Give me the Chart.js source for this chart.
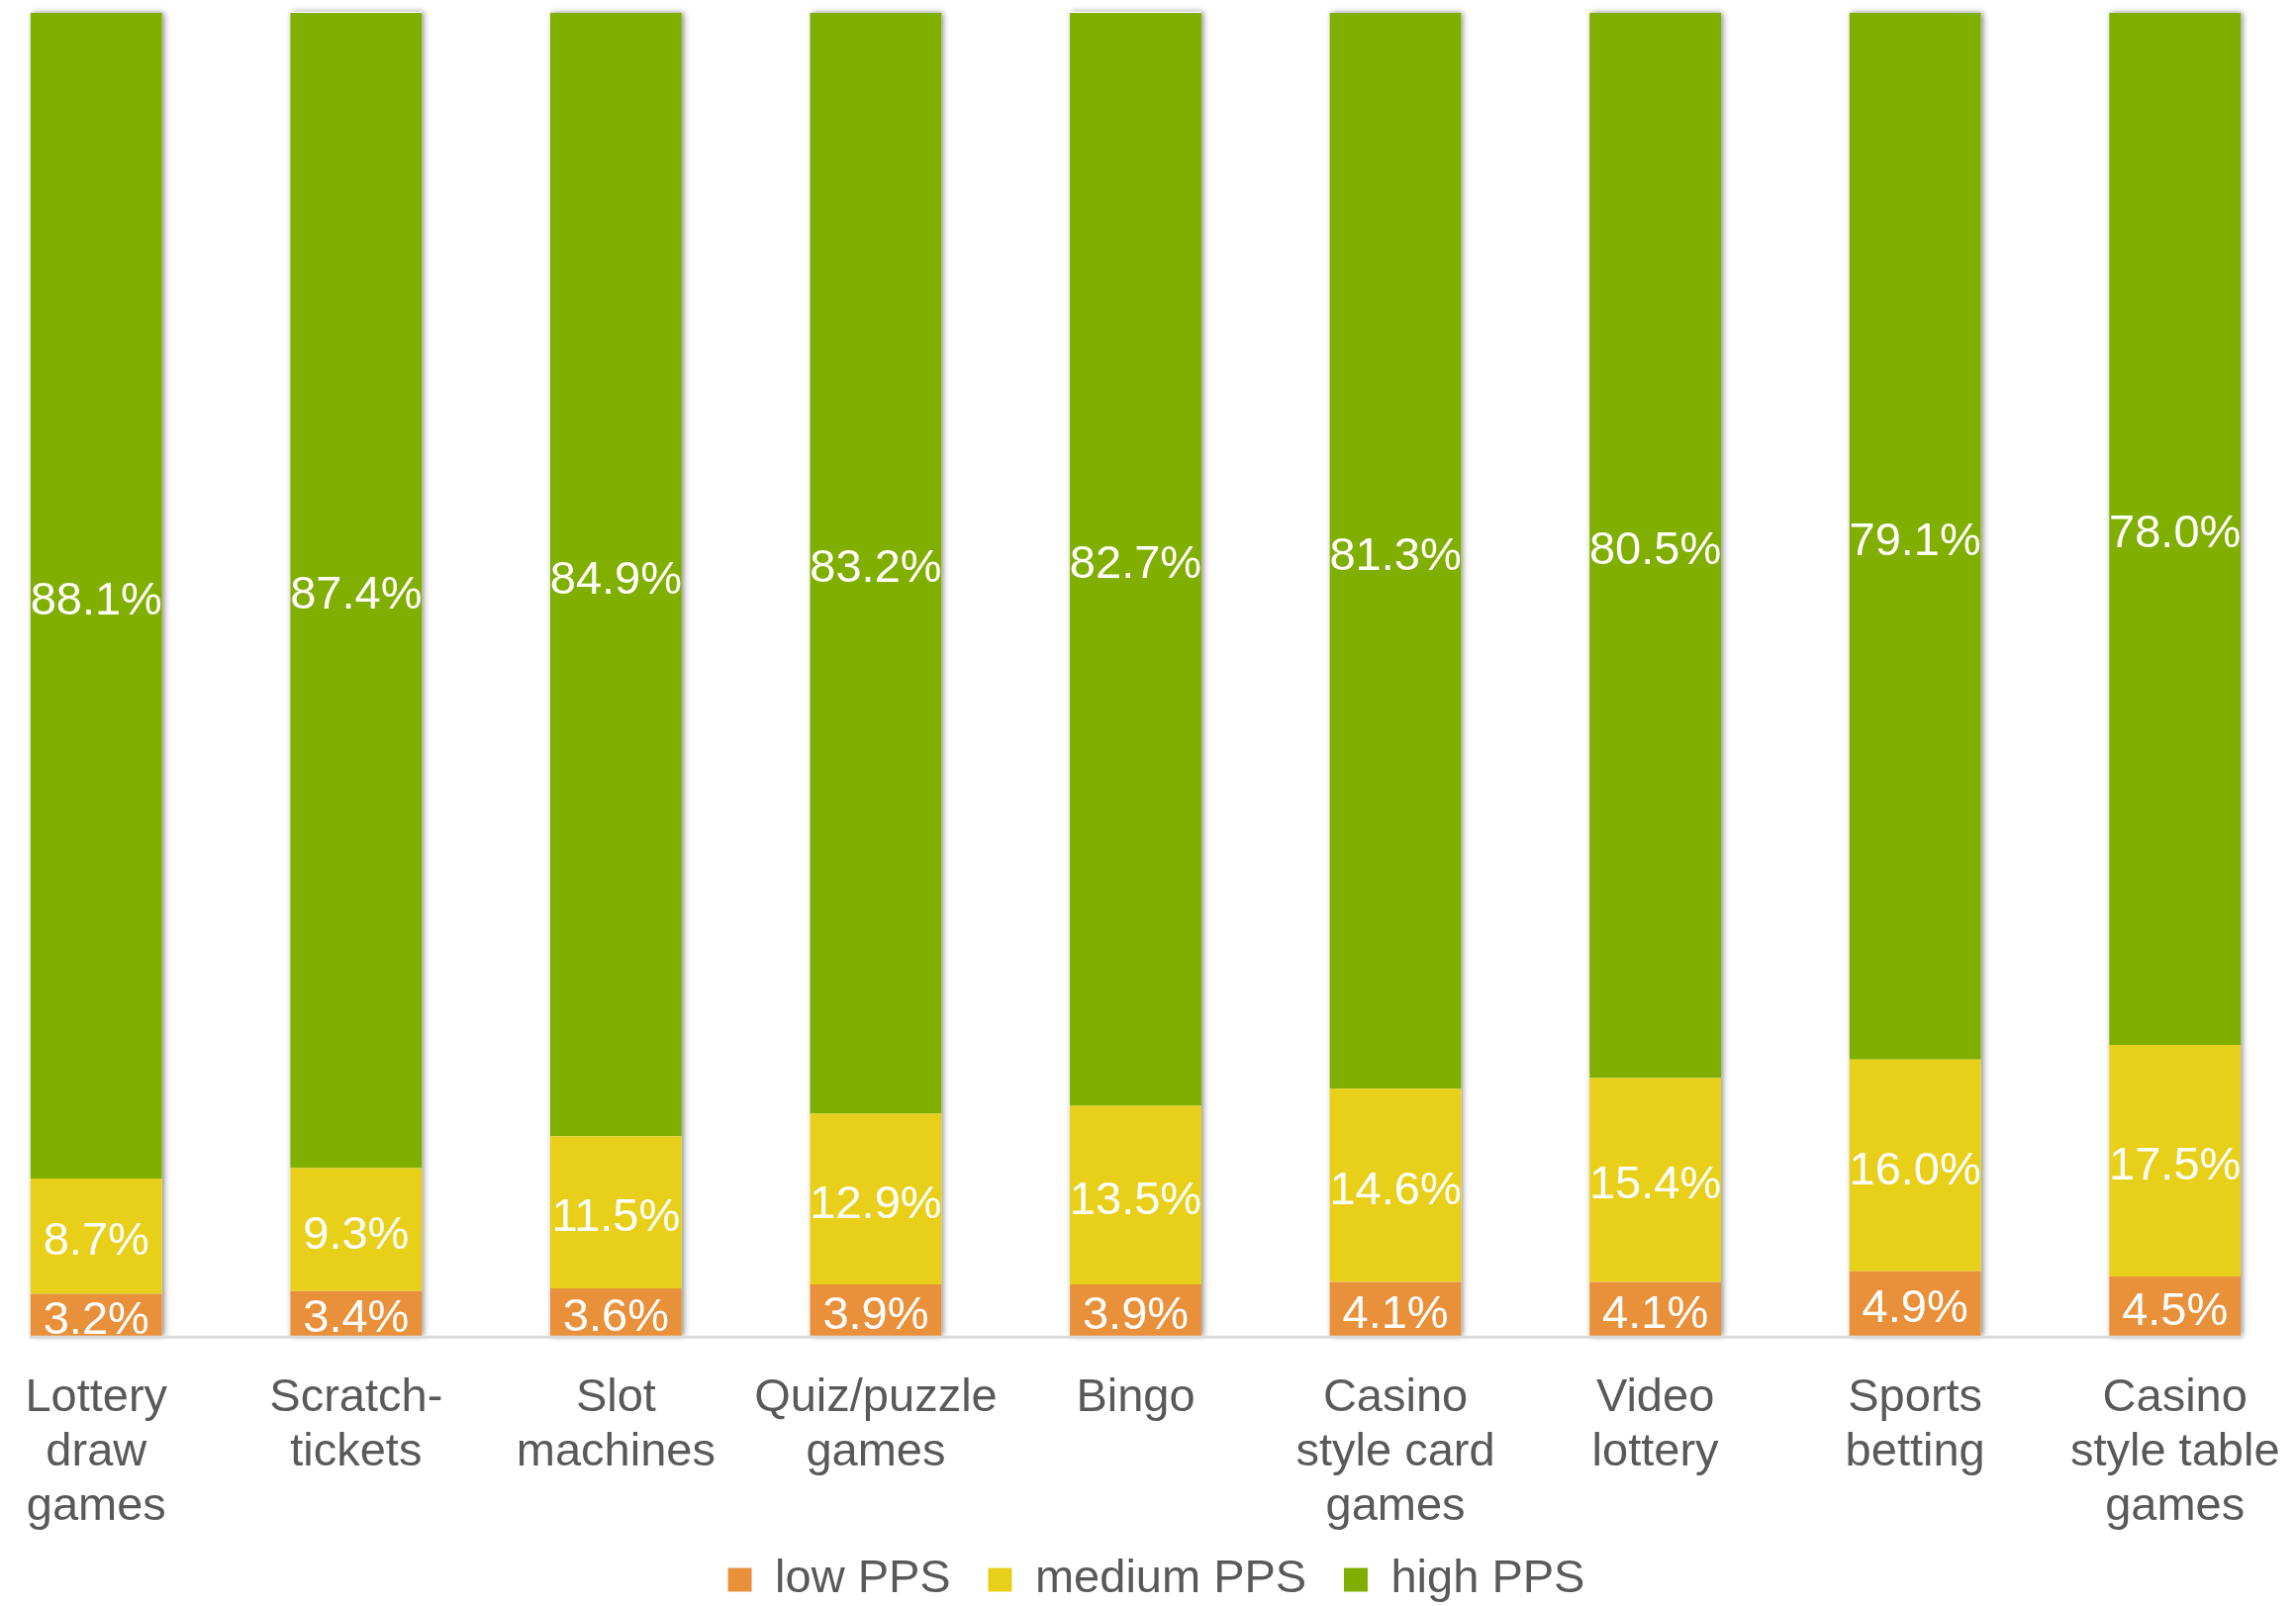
<!DOCTYPE html>
<html>
<head>
<meta charset="utf-8">
<title>PPS by game type</title>
<script src="https://cdn.jsdelivr.net/npm/chart.js@4.4.1/dist/chart.umd.min.js"></script>
<style>
  html, body { margin: 0; padding: 0; background: #fff; overflow: hidden; }
  #wrap { position: absolute; left: -34px; top: 0; width: 2363px; height: 1645px; }
</style>
</head>
<body>
<div id="wrap"><canvas id="chart"></canvas></div>
<script>
const categories = [
  ['Lottery', 'draw', 'games'],
  ['Scratch-', 'tickets'],
  ['Slot', 'machines'],
  ['Quiz/puzzle', 'games'],
  ['Bingo'],
  ['Casino', 'style card', 'games'],
  ['Video', 'lottery'],
  ['Sports', 'betting'],
  ['Casino', 'style table', 'games']
];
const lowPPS    = [3.2, 3.4, 3.6, 3.9, 3.9, 4.1, 4.1, 4.9, 4.5];
const mediumPPS = [8.7, 9.3, 11.5, 12.9, 13.5, 14.6, 15.4, 16.0, 17.5];
const highPPS   = [88.1, 87.4, 84.9, 83.2, 82.7, 81.3, 80.5, 79.1, 78.0];
const seriesNames  = ['low PPS', 'medium PPS', 'high PPS'];
const seriesColors = ['#E8913A', '#E8CF1A', '#80AF00'];

const textGrey = '#595959';
Chart.defaults.font.family = "'Liberation Sans', Arial, sans-serif";

// soft drop shadow behind every full stack
const stackShadow = {
  id: 'stackShadow',
  beforeDatasetsDraw(chart) {
    const ctx = chart.ctx;
    const base = chart.scales.y.getPixelForValue(0);
    const topBars = chart.getDatasetMeta(2).data;
    ctx.save();
    ctx.shadowColor = 'rgba(0,0,0,0.45)';
    ctx.shadowBlur = 6;
    ctx.shadowOffsetX = 2;
    ctx.fillStyle = '#ffffff';
    topBars.forEach(bar => {
      const p = bar.getProps(['x', 'y', 'width'], true);
      ctx.fillRect(p.x - p.width / 2, p.y, p.width, base - p.y);
    });
    ctx.restore();
  }
};

// value labels in the middle of each segment, plus the base line
const segmentLabels = {
  id: 'segmentLabels',
  afterDatasetsDraw(chart) {
    const ctx = chart.ctx;
    const base = chart.scales.y.getPixelForValue(0);
    const bars = chart.getDatasetMeta(0).data;
    const first = bars[0].getProps(['x', 'width'], true);
    const last = bars[bars.length - 1].getProps(['x', 'width'], true);

    ctx.save();
    ctx.strokeStyle = '#D9D9D9';
    ctx.lineWidth = 3;
    ctx.beginPath();
    ctx.moveTo(first.x - first.width / 2 - 1, base + 1);
    ctx.lineTo(last.x + last.width / 2 + 2, base + 1);
    ctx.stroke();

    ctx.fillStyle = '#ffffff';
    ctx.font = "47px 'Liberation Sans', Arial, sans-serif";
    ctx.textAlign = 'center';
    ctx.textBaseline = 'middle';
    chart.data.datasets.forEach((ds, i) => {
      chart.getDatasetMeta(i).data.forEach((bar, j) => {
        const c = bar.getCenterPoint(true);
        ctx.fillText(ds.data[j].toFixed(1) + '%', c.x, c.y + 6);
      });
    });
    ctx.restore();
  }
};

// move the legend row: a little right, and up towards the axis labels
const legendShift = {
  id: 'legendShift',
  afterLayout(chart) {
    const lg = chart.legend;
    lg.left += 21;
    lg.right += 21;
    lg.top -= 15;
    lg.bottom -= 15;
  }
};

const seriesData = [lowPPS, mediumPPS, highPPS];

const chart = new Chart(document.getElementById('chart'), {
  type: 'bar',
  data: {
    labels: categories,
    datasets: seriesData.map((values, i) => ({
      label: seriesNames[i],
      data: values,
      backgroundColor: seriesColors[i],
      borderWidth: 0,
      barPercentage: 0.506,
      categoryPercentage: 1
    }))
  },
  options: {
    responsive: true,
    maintainAspectRatio: false,
    animation: false,
    layout: { padding: { top: 13, left: 0, right: 0, bottom: 0 } },
    plugins: {
      tooltip: { enabled: false },
      legend: {
        position: 'bottom',
        labels: {
          boxWidth: 24,
          boxHeight: 24,
          padding: 37.75,
          color: textGrey,
          font: { size: 47 }
        }
      }
    },
    scales: {
      x: {
        stacked: true,
        offset: true,
        border: { display: false },
        grid: { display: false, drawTicks: true, tickLength: 35 },
        ticks: {
          padding: 0,
          autoSkip: false,
          maxRotation: 0,
          minRotation: 0,
          color: textGrey,
          font: { size: 47, lineHeight: 55 / 47 }
        }
      },
      y: {
        stacked: true,
        display: false,
        min: 0,
        max: 100
      }
    }
  },
  plugins: [stackShadow, segmentLabels, legendShift]
});
</script>
</body>
</html>
